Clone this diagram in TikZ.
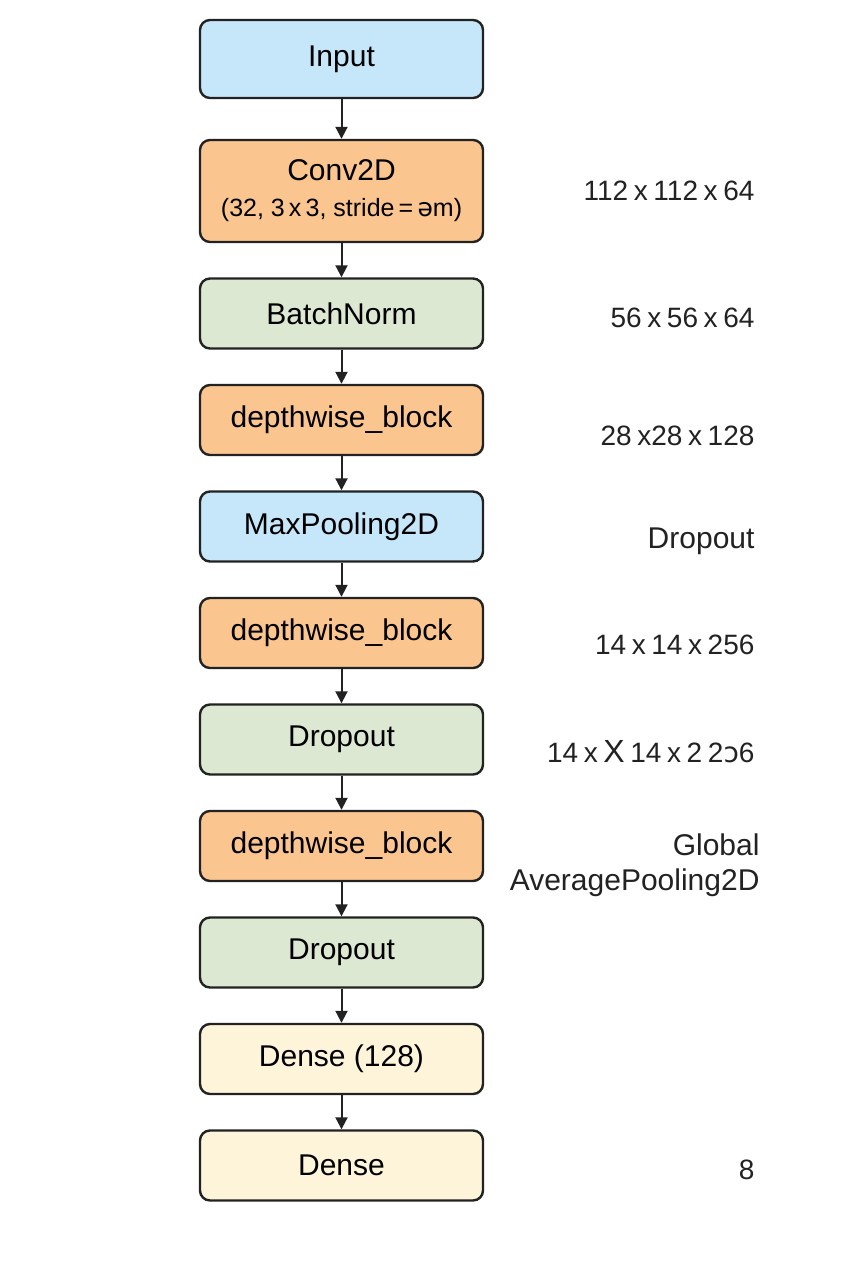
\documentclass[tikz,border=0pt]{standalone}
\usepackage{fontspec}
\setmainfont{Liberation Sans}
\newfontfamily\ipafont{DejaVu Sans}
\usetikzlibrary{positioning,arrows.meta}

\definecolor{inblue}{HTML}{C6E6F9}
\definecolor{convorange}{HTML}{FBC590}
\definecolor{normgreen}{HTML}{DDE8D3}
\definecolor{denseyellow}{HTML}{FDF4DA}
\definecolor{edge}{HTML}{222222}

\tikzset{
  layer/.style={draw=edge,line width=2.4pt,rounded corners=10pt,
    minimum width=283pt,minimum height=70pt,inner sep=0pt,align=center,
    font=\fontsize{30}{34}\selectfont},
  flow/.style={draw=edge,line width=2pt,-{Triangle[length=12pt,width=12pt]}},
  dimlabel/.style={anchor=east,align=right,text=edge,
    font={\fontsize{28}{35}\selectfont\spaceskip=0.2em plus 0.05em}}
}

\begin{document}
\begin{tikzpicture}[x=1pt,y=1pt]
\useasboundingbox[fill=white] (0,0) rectangle (853,-1280);

% layer stack
\node[layer,fill=inblue,minimum height=78pt] (in) at (341.5,-59) {Input};
\node[layer,fill=convorange,minimum height=102pt,below=39.6pt of in] (conv)
  {Conv2D\\[2pt]{\fontsize{25}{28}\selectfont (32, 3\,x\,3, stride\,=\,{\ipafont ə}m)}};
\node[layer,fill=normgreen,below=34.1pt of conv] (bn) {BatchNorm};
\node[layer,fill=convorange,below=34.1pt of bn] (dw1) {depthwise\_block};
\node[layer,fill=inblue,below=34.1pt of dw1] (pool) {MaxPooling2D};
\node[layer,fill=convorange,below=34.1pt of pool] (dw2) {depthwise\_block};
\node[layer,fill=normgreen,below=34.1pt of dw2] (drop1) {Dropout};
\node[layer,fill=convorange,below=34.1pt of drop1] (dw3) {depthwise\_block};
\node[layer,fill=normgreen,below=34.1pt of dw3] (drop2) {Dropout};
\node[layer,fill=denseyellow,below=34.1pt of drop2] (fc) {Dense (128)};
\node[layer,fill=denseyellow,below=34.1pt of fc] (out) {Dense};

\foreach \a/\b in {in/conv,conv/bn,bn/dw1,dw1/pool,pool/dw2,dw2/drop1,
  drop1/dw3,dw3/drop2,drop2/fc,fc/out}
  \draw[flow] (\a) -- (\b);

% shapes on the right
\node[dimlabel] (s1) at (758,-191) {112 x 112 x 64};
\node[dimlabel] (s2) at (758,-318) {56 x 56 x 64};
\node[dimlabel] (s3) at (758,-436) {28 x28 x 128};
\node[dimlabel,font=\fontsize{30}{34}\selectfont] (s4) at (758,-541) {Dropout};
\node[dimlabel] (s5) at (758,-645) {14 x 14 x 256};
\node[dimlabel] (s6) at (758,-752) {14 x {\fontsize{32}{34}\selectfont X} 14 x 2 2{\ipafont ɔ}6};
\node[dimlabel,font=\fontsize{30}{35}\selectfont] (s7) at (763,-865) {Global\\AveragePooling2D};
\node[dimlabel] (s8) at (758,-1170) {8};
\end{tikzpicture}
\end{document}
